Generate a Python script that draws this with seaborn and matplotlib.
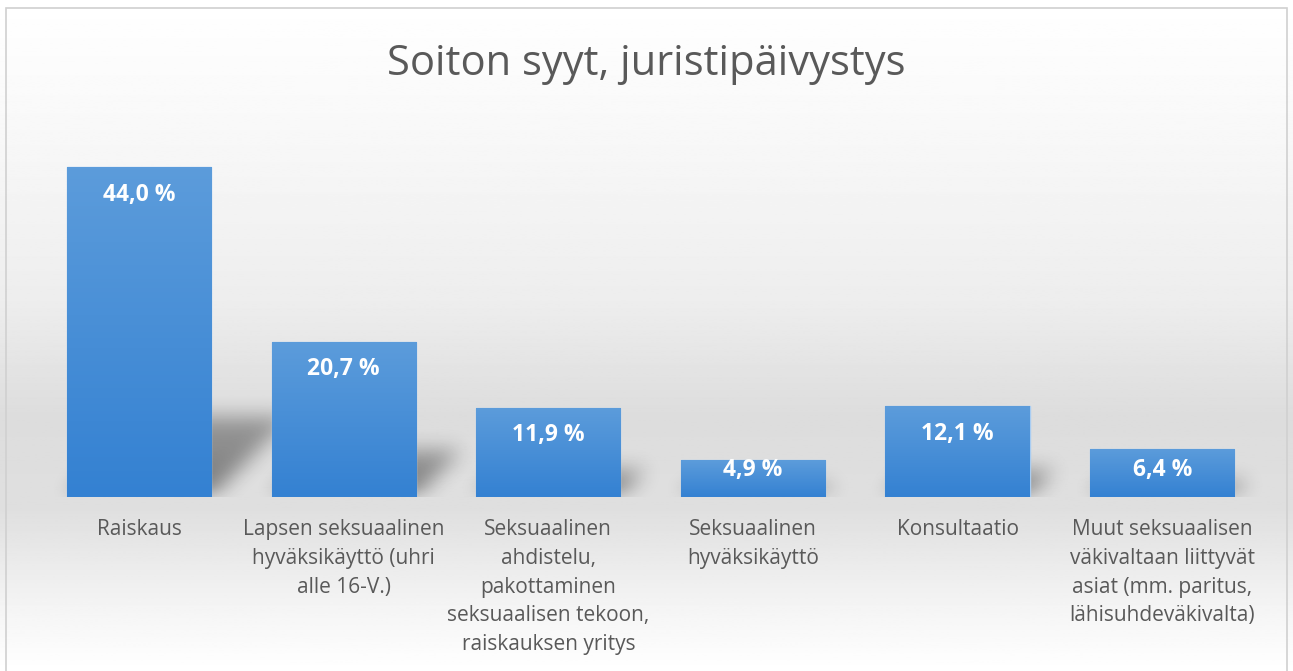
import numpy as np
import pandas as pd
import seaborn as sns
import matplotlib.pyplot as plt
from matplotlib.colors import LinearSegmentedColormap
from matplotlib.patches import Rectangle

# Data
kategoriat = [
    "Raiskaus",
    "Lapsen seksuaalinen\nhyväksikäyttö (uhri\nalle 16-V.)",
    "Seksuaalinen\nahdistelu,\npakottaminen\nseksuaalisen tekoon,\nraiskauksen yritys",
    "Seksuaalinen\nhyväksikäyttö",
    "Konsultaatio",
    "Muut seksuaalisen\nväkivaltaan liittyvät\nasiat (mm. paritus,\nlähisuhdeväkivalta)",
]
osuudet = [44.0, 20.7, 11.9, 4.9, 12.1, 6.4]
arvo_tekstit = ["44,0 %", "20,7 %", "11,9 %", "4,9 %", "12,1 %", "6,4 %"]

df = pd.DataFrame({"kategoria": kategoriat, "osuus": osuudet})

FONT = ["Liberation Sans Narrow", "Open Sans", "DejaVu Sans"]
TEXT_GREY = "#595959"

sns.set_theme(style="white")
plt.rcParams["font.family"] = FONT

fig = plt.figure(figsize=(12.93, 6.71), dpi=100)

# taustan liukuväri (valkoinen -> harmaa -> valkoinen)
bg = fig.add_axes([0, 0, 1, 1], zorder=0)
yy = np.linspace(0, 1, 400)
stops_y = [0.0, 0.18, 0.45, 0.62, 0.76, 0.9, 1.0]
stops_v = [1.0, 0.975, 0.93, 0.865, 0.875, 0.955, 1.0]
grad = np.interp(yy, stops_y, stops_v)[:, None]
bg.imshow(np.repeat(grad, 2, axis=1), cmap="gray", vmin=0, vmax=1,
          aspect="auto", extent=[0, 1, 1, 0])
bg.add_patch(Rectangle((0.005, -0.1), 0.99, 1.088, fill=False,
                       edgecolor="#d0d0d0", linewidth=1.2, transform=bg.transAxes))
bg.set_xlim(0, 1)
bg.set_ylim(1, 0)
bg.axis("off")

ax = fig.add_axes([0.0284, 0.2593, 0.9496, 0.559], zorder=1)
ax.patch.set_alpha(0)

sns.barplot(data=df, x="kategoria", y="osuus", color="#4a8fd8", width=0.705,
            saturation=1, ax=ax, zorder=3)


def blur(m, n, passes=3):
    k = np.ones(n) / n
    for _ in range(passes):
        m = np.apply_along_axis(lambda r: np.convolve(r, k, mode="same"), 1, m)
        m = np.apply_along_axis(lambda c: np.convolve(c, k, mode="same"), 0, m)
    return m


# pylväiden liukuväri ja varjot
bar_cmap = LinearSegmentedColormap.from_list("bar", ["#3481d2", "#5c9cdb"])
px_x = 204.7  # pikseliä / kategoria
px_y = 7.5    # pikseliä / %-yksikkö
for p in ax.patches:
    x0, w, h = p.get_x(), p.get_width(), p.get_height()
    sh_px = min(0.3 * h * px_y, 80)
    sh = sh_px / px_y
    dx = sh_px / px_x
    # varjo pikseliruudukossa (1 solu = 1 px)
    pad = 50
    nx = int(w * px_x + sh_px + 2 * pad)
    ny = int(sh_px + pad)
    ext = [x0 - pad / px_x, x0 - pad / px_x + nx / px_x, 0, ny / px_y]
    gx = np.linspace(ext[0], ext[1], nx)
    gy = np.linspace(ext[2], ext[3], ny)
    GX, GY = np.meshgrid(gx, gy)
    t = GY / sh
    inside = (GY <= sh) & (GX >= x0 + t * dx) & (GX <= x0 + w + t * dx)
    m = inside.astype(float) * (1 - 0.3 * np.clip(t, 0, 1))
    m = blur(m, 19)
    rgba = np.zeros((ny, nx, 4))
    rgba[..., 3] = m * 0.45
    ax.imshow(rgba, extent=ext, origin="lower", aspect="auto", zorder=2,
              interpolation="bilinear")
    # pylvään liukuväri
    im = ax.imshow(np.linspace(0, 1, 100)[:, None], cmap=bar_cmap, origin="lower",
                   extent=[x0, x0 + w, 0, h], aspect="auto", zorder=3.5)
    im.set_clip_path(p)
    p.set_edgecolor("#a9cdf2")
    p.set_linewidth(1.0)
ax.set_xlim(-0.5, len(kategoriat) - 0.5)
ax.set_ylim(0, 50)

# arvot pylväisiin
for i, (v, s) in enumerate(zip(osuudet, arvo_tekstit)):
    ax.text(i, max(v - 3.7, 3.6), s, ha="center", va="center", color="white",
            fontsize=16.5, fontweight="bold", zorder=5)

ax.set_xlabel("")
ax.set_ylabel("")
ax.set_yticks([])
ax.tick_params(axis="x", length=0, pad=16)
ax.set_xticks(range(len(kategoriat)))
ax.set_xticklabels(kategoriat, fontsize=15, color=TEXT_GREY, linespacing=1.48,
                   va="top")
sns.despine(ax=ax, left=True, bottom=True)

fig.text(0.5, 0.905, "Soiton syyt, juristipäivystys", ha="center", va="center",
         fontsize=30, color=TEXT_GREY)

fig.savefig("out.png", dpi=100)
